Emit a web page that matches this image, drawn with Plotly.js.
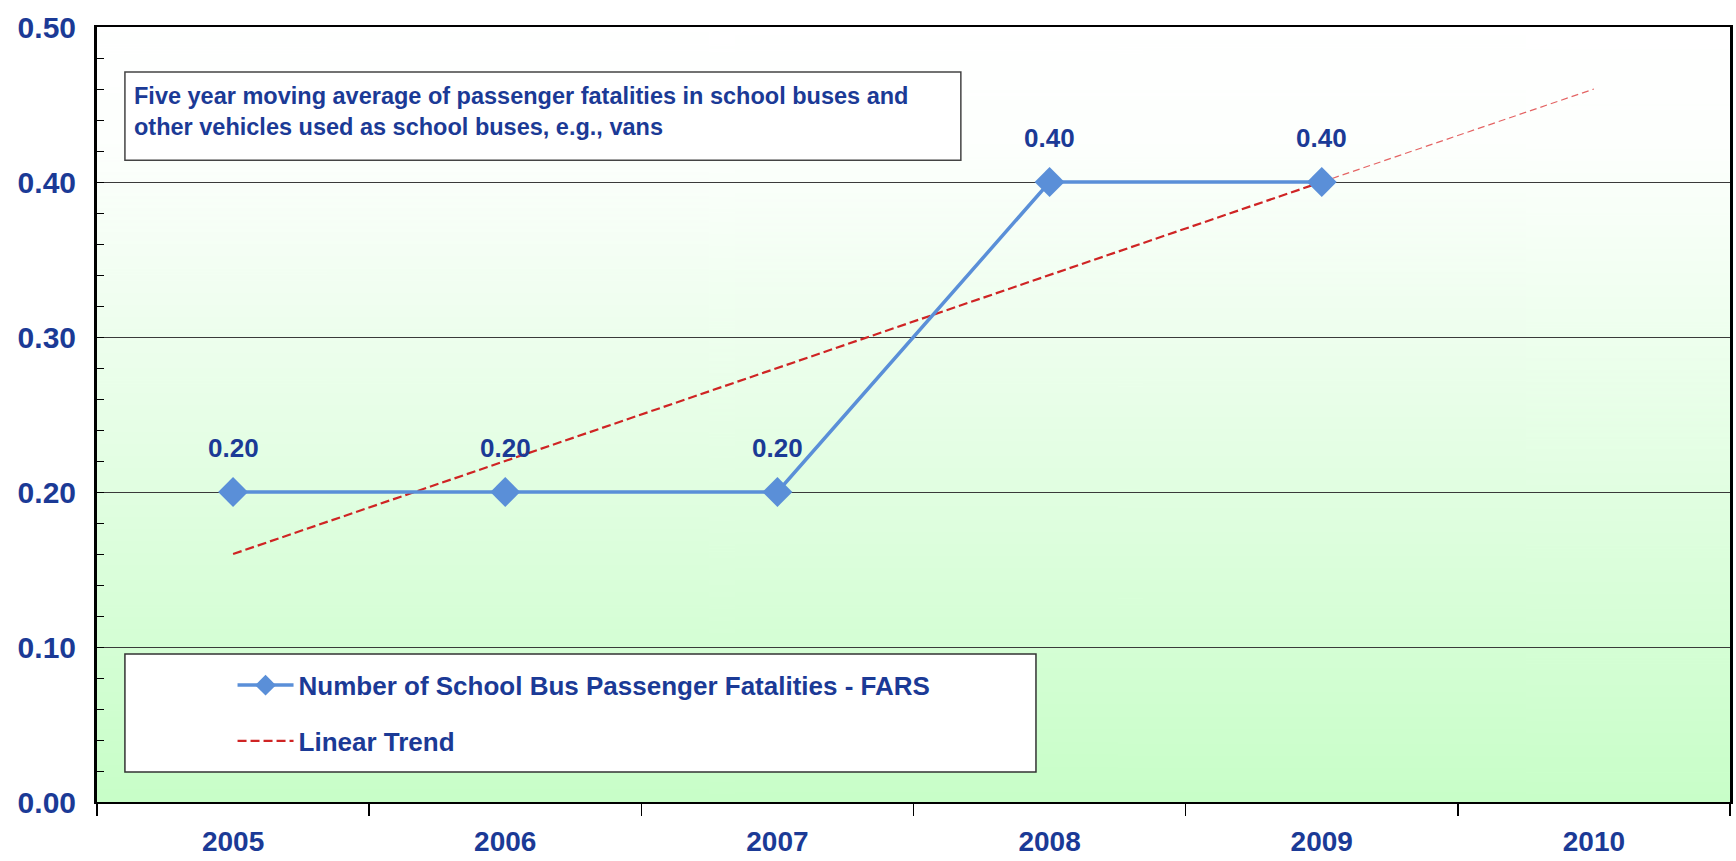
<!DOCTYPE html>
<html><head><meta charset="utf-8">
<script src="https://cdn.plot.ly/plotly-3.0.1.min.js"></script>
<style>html,body{margin:0;padding:0;background:#fff}#chart{width:1736px;height:861px}</style>
</head><body><div id="chart"></div>
<script>
// ---- data ----
const years = ['2005','2006','2007','2008','2009','2010'];
const fatalYears = ['2005','2006','2007','2008','2009'];
const fatalities = [0.20, 0.20, 0.20, 0.40, 0.40];
const trendYears = ['2005','2006','2007','2008','2009'];
const trendValues = [0.16, 0.22, 0.28, 0.34, 0.40];
const forecastYears = ['2009','2010'];
const forecastValues = [0.40, 0.46];
const yTicks = [0, 0.1, 0.2, 0.3, 0.4, 0.5];
const yTickLabels = ['0.00','0.10','0.20','0.30','0.40','0.50'];
const noteText = 'Five year moving average of passenger fatalities in school buses and<br>other vehicles used as school buses, e.g., vans';
const seriesName = 'Number of School Bus Passenger Fatalities - FARS';
const trendName = 'Linear Trend';

// ---- styles ----
const BLUE_TXT = '#1b3a96';
const REG = '"Liberation Sans", Arial, sans-serif';

// gradient background
const cv = document.createElement('canvas'); cv.width = 4; cv.height = 512;
const ctx = cv.getContext('2d');
const gr = ctx.createLinearGradient(0, 0, 0, 512);
gr.addColorStop(0, '#ffffff');
gr.addColorStop(0.15, '#fdfffd');
gr.addColorStop(1, '#c8fec8');
ctx.fillStyle = gr; ctx.fillRect(0, 0, 4, 512);
const bgURL = cv.toDataURL('image/png');

const traces = [
  {
    x: trendYears, y: trendValues, name: trendName, type: 'scatter', mode: 'lines',
    line: {color: '#cf2424', width: 2.2, dash: '9px,4px'},
    legendgroup: 'b', legendrank: 2, hoverinfo: 'skip'
  },
  {
    x: forecastYears, y: forecastValues, name: trendName, type: 'scatter', mode: 'lines',
    line: {color: '#e46464', width: 1.2, dash: '7px,4px'},
    showlegend: false, hoverinfo: 'skip'
  },
  {
    x: fatalYears, y: fatalities, name: seriesName, type: 'scatter', mode: 'lines+markers',
    line: {color: '#5a8fd8', width: 3.5},
    marker: {symbol: 'diamond', size: 23, color: '#5a8fd8'},
    legendgroup: 'a', legendrank: 1
  }
];

const annotations = fatalYears.map((yr, i) => ({
  x: years.indexOf(yr), y: fatalities[i], xref: 'x', yref: 'y', text: fatalities[i].toFixed(2),
  showarrow: false, yshift: 44, font: {family: REG, size: 26, color: BLUE_TXT, weight: 'bold'}
}));
annotations.push({
  xref: 'x domain', yref: 'y domain', x: 0.0215, y: 0.8916, xanchor: 'left', yanchor: 'middle',
  align: 'left', showarrow: false, text: noteText,
  font: {family: REG, size: 23.5, color: BLUE_TXT, weight: 'bold'}
});

const layout = {
  width: 1736, height: 861,
  margin: {l: 97, r: 6, t: 27, b: 59, pad: 0},
  paper_bgcolor: '#ffffff', plot_bgcolor: 'rgba(0,0,0,0)',
  showlegend: true,
  legend: {
    x: 0.083, y: 0.181, xanchor: 'left', yanchor: 'top',
    bgcolor: 'rgba(0,0,0,0)', borderwidth: 0,
    traceorder: 'grouped', tracegroupgap: 19, itemwidth: 56,
    font: {family: REG, size: 26, color: BLUE_TXT, weight: 'bold'}
  },
  xaxis: {
    type: 'category', categoryorder: 'array', categoryarray: years,
    range: [-0.5, 5.5], tickson: 'boundaries', ticks: 'outside', ticklen: 12, tickwidth: 1.5,
    tickcolor: '#000', showgrid: false, showline: true, linecolor: '#000', linewidth: 2, mirror: true,
    ticklabelstandoff: 13,
    tickfont: {family: REG, size: 28, color: BLUE_TXT, weight: 'bold'}, zeroline: false
  },
  yaxis: {
    range: [0, 0.5], tickmode: 'array', tickvals: yTicks, ticktext: yTickLabels,
    ticks: 'inside', ticklen: 7, tickcolor: '#000',
    minor: {dtick: 0.02, ticks: 'inside', ticklen: 7, tickcolor: '#000', showgrid: false},
    showgrid: true, gridcolor: '#3a3a3a', gridwidth: 1,
    showline: true, linecolor: '#000', linewidth: 3, mirror: true, zeroline: false,
    ticklabelstandoff: 12,
    tickfont: {family: REG, size: 30, color: BLUE_TXT, weight: 'bold'}
  },
  images: [{
    source: bgURL, xref: 'x domain', yref: 'y domain', x: 0, y: 1, sizex: 1, sizey: 1,
    xanchor: 'left', yanchor: 'top', sizing: 'stretch', layer: 'below'
  }],
  shapes: [
    {type: 'rect', xref: 'x domain', yref: 'y domain', x0: 0.0171, x1: 0.529, y0: 0.828, y1: 0.942,
     fillcolor: '#ffffff', line: {color: '#444', width: 1.5}, layer: 'above'},
    {type: 'rect', xref: 'x domain', yref: 'y domain', x0: 0.0171, x1: 0.575, y0: 0.0387, y1: 0.191,
     fillcolor: '#ffffff', line: {color: '#333', width: 1.5}, layer: 'above'}
  ],
  annotations: annotations,
  hovermode: false
};

Plotly.newPlot('chart', traces, layout, {displayModeBar: false, staticPlot: true});
</script></body></html>
